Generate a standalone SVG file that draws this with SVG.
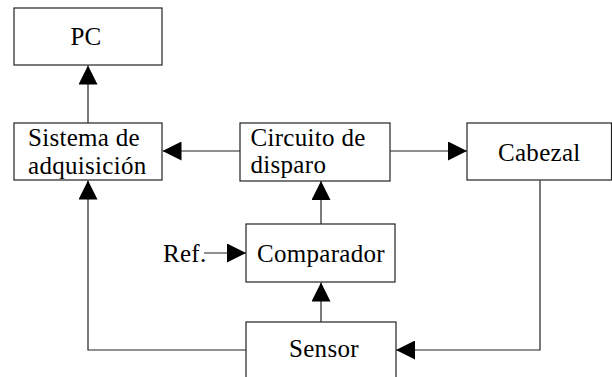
<svg xmlns="http://www.w3.org/2000/svg" width="612" height="377" viewBox="0 0 612 377">
<style>
.box{fill:#fff;stroke:#222;stroke-width:1.2}
.t{font-family:"Liberation Serif","Times New Roman",serif;font-size:25px;letter-spacing:0.3px;fill:#000}
.ln{fill:none;stroke:#222;stroke-width:1.2}
</style>
<defs>
<marker id="ah" markerUnits="userSpaceOnUse" markerWidth="19" markerHeight="19" viewBox="0 0 19 19" refX="19" refY="9.5" orient="auto">
<path d="M0,0 L19,9.5 L0,19 Z" fill="#000"/>
</marker>
</defs>
<rect width="612" height="377" fill="#fff"/>
<g id="connectors">
<line class="ln" x1="88" y1="123" x2="88" y2="65.5" marker-end="url(#ah)"/>
<line class="ln" x1="240" y1="151" x2="162.5" y2="151" marker-end="url(#ah)"/>
<line class="ln" x1="390" y1="151" x2="467" y2="151" marker-end="url(#ah)"/>
<line class="ln" x1="321" y1="224" x2="321" y2="181" marker-end="url(#ah)"/>
<line class="ln" x1="321" y1="322" x2="321" y2="282.5" marker-end="url(#ah)"/>
<line class="ln" x1="204" y1="253" x2="246" y2="253" marker-end="url(#ah)"/>
<polyline class="ln" points="246,350 88,350 88,180.5" marker-end="url(#ah)"/>
<polyline class="ln" points="540,180.5 540,350 396,350" marker-end="url(#ah)"/>
</g>
<g id="pc">
<rect class="box" x="14" y="8" width="148" height="57"/>
<text class="t" x="86" y="45" text-anchor="middle">PC</text>
</g>
<g id="sistema">
<rect class="box" x="14" y="123" width="148" height="57"/>
<text class="t" x="28" y="146">Sistema de</text>
<text class="t" x="28" y="174">adquisición</text>
</g>
<g id="circuito">
<rect class="box" x="240" y="123" width="150" height="58"/>
<text class="t" x="250.5" y="146">Circuito de</text>
<text class="t" x="250.5" y="173">disparo</text>
</g>
<g id="cabezal">
<rect class="box" x="467" y="123" width="144.5" height="57"/>
<text class="t" x="498" y="161">Cabezal</text>
</g>
<g id="comparador">
<rect class="box" x="246" y="224" width="149" height="58"/>
<text class="t" x="257" y="262">Comparador</text>
</g>
<g id="ref">
<text class="t" x="163" y="262">Ref.</text>
</g>
<g id="sensor">
<rect class="box" x="246" y="322" width="150" height="60"/>
<text class="t" x="289" y="357">Sensor</text>
</g>
</svg>
